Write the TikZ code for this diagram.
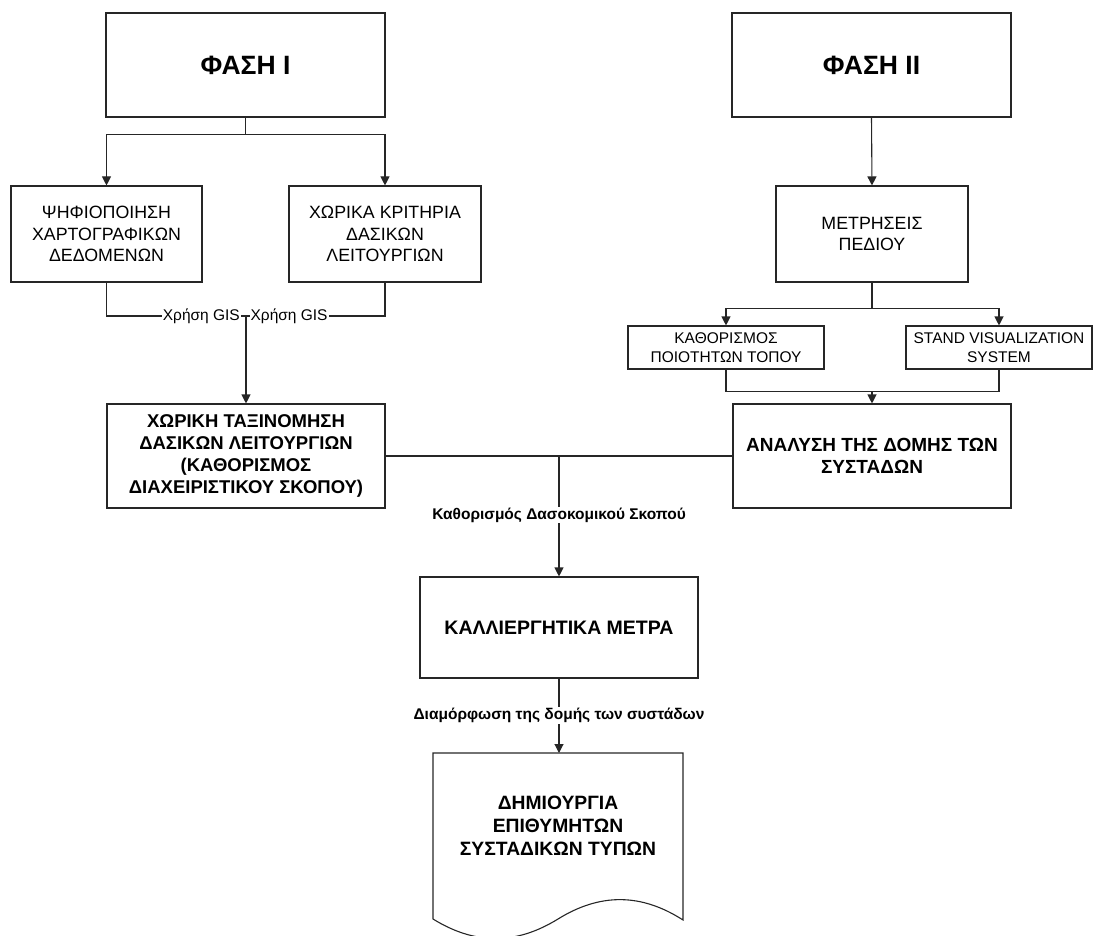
\documentclass[tikz,border=0pt]{standalone}
\usepackage{fontspec}
\setmainfont{Liberation Sans}
\usetikzlibrary{arrows.meta}
\begin{document}
\begin{tikzpicture}[x=1pt,y=-1pt,
  box/.style={draw=black!85, line width=1.1pt, align=center, inner sep=2pt},
  big/.style={font=\bfseries\fontsize{26.5}{31}\selectfont},
  norm/.style={font=\fontsize{17.8}{21.5}\selectfont},
  small/.style={font=\fontsize{15.5}{18.5}\selectfont},
  bold/.style={font=\bfseries\fontsize{18.5}{22}\selectfont},
  ln/.style={draw=black!85, line width=1.1pt},
  arr/.style={-{Triangle[length=9pt,width=9pt]}},
  lab/.style={fill=white, inner sep=1pt, text=black},
  blab/.style={lab, font=\bfseries\fontsize{15.5}{18}\selectfont},
  glab/.style={lab, font=\fontsize{15.5}{18}\selectfont}]
\useasboundingbox (0,0) rectangle (1093,936);

% top level
\node[box, big, minimum width=279pt, minimum height=104pt] (p1) at (245.5,65) {ΦΑΣΗ I};
\node[box, big, minimum width=279pt, minimum height=104pt] (p2) at (871.5,65) {ΦΑΣΗ II};

% second level
\node[box, norm, minimum width=191pt, minimum height=96pt] (a1) at (106.5,234) {ΨΗΦΙΟΠΟΙΗΣΗ\\ΧΑΡΤΟΓΡΑΦΙΚΩΝ\\ΔΕΔΟΜΕΝΩΝ};
\node[box, norm, minimum width=192pt, minimum height=96pt] (a2) at (385,234) {ΧΩΡΙΚΑ ΚΡΙΤΗΡΙΑ\\ΔΑΣΙΚΩΝ\\ΛΕΙΤΟΥΡΓΙΩΝ};
\node[box, norm, minimum width=192pt, minimum height=96pt] (b1) at (872,234) {ΜΕΤΡΗΣΕΙΣ\\ΠΕΔΙΟΥ};

% third level right
\node[box, small, minimum width=196pt, minimum height=43pt] (b2) at (726,347.5) {ΚΑΘΟΡΙΣΜΟΣ\\ΠΟΙΟΤΗΤΩΝ ΤΟΠΟΥ};
\node[box, small, minimum width=186pt, minimum height=43pt] (b3) at (999,347.5) {STAND VISUALIZATION\\SYSTEM};

% fourth level
\node[box, bold, minimum width=278pt, minimum height=104pt] (c1) at (246,456) {ΧΩΡΙΚΗ ΤΑΞΙΝΟΜΗΣΗ\\ΔΑΣΙΚΩΝ ΛΕΙΤΟΥΡΓΙΩΝ\\(ΚΑΘΟΡΙΣΜΟΣ\\ΔΙΑΧΕΙΡΙΣΤΙΚΟΥ ΣΚΟΠΟΥ)};
\node[box, bold, font=\bfseries\fontsize{19}{22}\selectfont, minimum width=278pt, minimum height=104pt] (c2) at (872,456) {ΑΝΑΛΥΣΗ ΤΗΣ ΔΟΜΗΣ ΤΩΝ\\ΣΥΣΤΑΔΩΝ};

% fifth level
\node[box, font=\bfseries\fontsize{19.5}{23}\selectfont, minimum width=278pt, minimum height=101pt] (d) at (559,627.5) {ΚΑΛΛΙΕΡΓΗΤΙΚΑ ΜΕΤΡΑ};

% document shape
\draw[ln] (433,753) -- (683,753) -- (683,920)
  .. controls (641,893) and (600,893) .. (558,919)
  .. controls (516,945) and (475,945) .. (433,919) -- cycle;
\coordinate (etop) at (559,753);
\node[align=center, font=\bfseries\fontsize{19.3}{23}\selectfont] (e) at (558,826) {ΔΗΜΙΟΥΡΓΙΑ\\ΕΠΙΘΥΜΗΤΩΝ\\ΣΥΣΤΑΔΙΚΩΝ ΤΥΠΩΝ};

% connectors: phase I
\draw[ln] (p1.south) -- ++(0,17) coordinate (j1);
\draw[ln,arr] (j1) -| (a1.north);
\draw[ln,arr] (j1) -| (a2.north);

% GIS connectors
\coordinate (g) at (246,316);
\draw[ln] (a1.south) |- (g) node[glab, pos=0.84] {Χρήση GIS};
\draw[ln] (a2.south) |- (g) node[glab, pos=0.845] {Χρήση GIS};
\draw[ln,arr] (g) -- (c1.north);

% connectors: phase II
\draw[ln,arr] (p2.south) -- (b1.north);
\draw[ln] (b1.south) -- ++(0,26) coordinate (j2);
\draw[ln,arr] (j2) -| (b2.north);
\draw[ln,arr] (j2) -| (b3.north);
\draw[ln] (b2.south) -- ++(0,22) -| (b3.south);
\coordinate (j3) at (872,391);
\draw[ln,arr] (j3) -- (c2.north);

% middle
\draw[ln] (c1.east) -- (c2.west);
\coordinate (j4) at (559,456);
\draw[ln,arr] (j4) -- node[blab, pos=0.49] {Καθορισμός Δασοκομικού Σκοπού} (d.north);
\draw[ln,arr] (d.south) -- node[blab, pos=0.5] {Διαμόρφωση της δομής των συστάδων} (etop);
\end{tikzpicture}
\end{document}
